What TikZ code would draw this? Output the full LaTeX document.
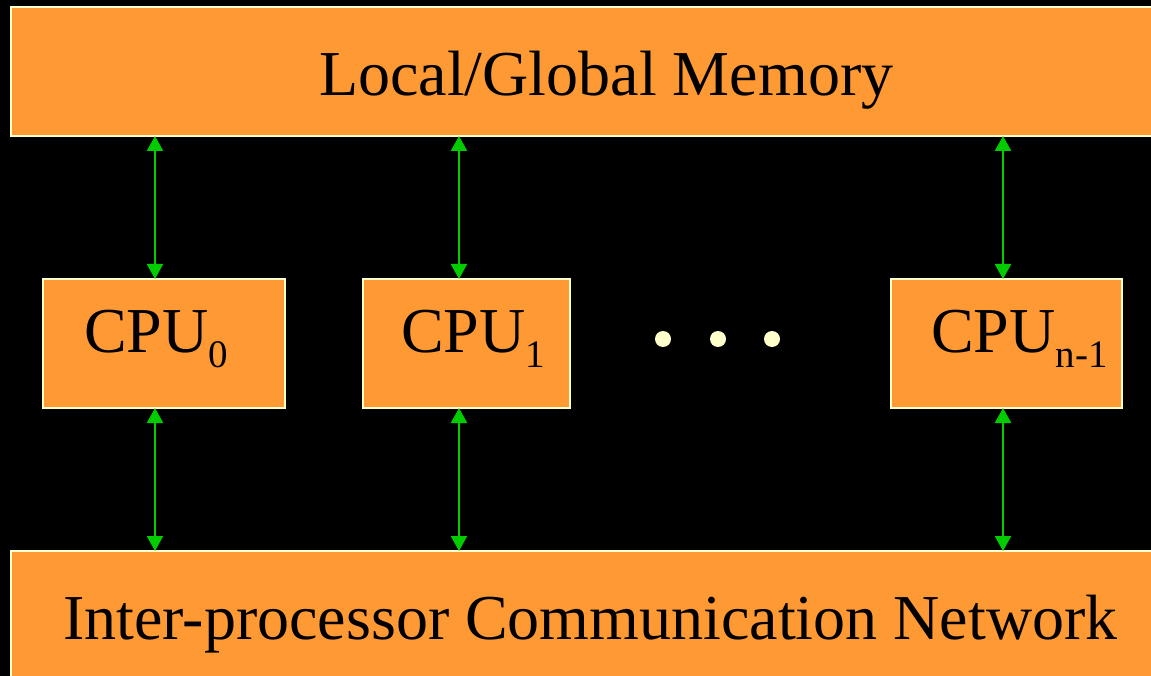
\documentclass[tikz,border=0pt]{standalone}
\usepackage{fontspec}
\setmainfont{Liberation Serif}
\usetikzlibrary{arrows.meta}
\definecolor{boxorange}{HTML}{FF9933}
\definecolor{boxedge}{HTML}{FFFFCC}
\definecolor{arrgreen}{HTML}{00CC00}
\definecolor{dotcol}{HTML}{FFFFCC}
\newcommand{\mysub}[1]{\raisebox{-16pt}{\fontsize{39}{39}\selectfont #1}}
\begin{document}
\begin{tikzpicture}[x=1pt,y=-1pt,
  box/.style={draw=boxedge,fill=boxorange,line width=2pt,inner sep=0pt,outer sep=0pt},
  lbl/.style={inner sep=0pt,anchor=base west,font=\fontsize{64}{64}\selectfont,text=black},
  dotnode/.style={circle,fill=dotcol,inner sep=0pt,minimum size=16pt},
  arr/.style={draw=arrgreen,line width=2.2pt,{Triangle[width=16pt,length=15pt]}-{Triangle[width=16pt,length=15pt]}}
]
\fill[black] (0,0) rectangle (1151,676);
\useasboundingbox (0,0) rectangle (1151,676);
\clip (0,0) rectangle (1151,676);
% boxes
\node[box,minimum width=1189pt,minimum height=129pt] (mem) at (605.5,71.5) {};
\node[box,minimum width=242pt,minimum height=129pt] (cpu0) at (164,343.5) {};
\node[box,minimum width=207pt,minimum height=129pt] (cpu1) at (466.5,343.5) {};
\node[box,minimum width=231pt,minimum height=129pt] (cpun) at (1006.5,343.5) {};
\node[box,minimum width=1189pt,minimum height=149pt] (net) at (605.5,625.5) {};
% labels
\node[lbl] (memtext) at (319,96) {Local/Global Memory};
\node[lbl] (nettext) at (63,639) {Inter-processor Communication Network};
\node[lbl] (cpu0text) at (84,352) {CPU\mysub{0}};
\node[lbl] (cpu1text) at (401,352) {CPU\mysub{1}};
\node[lbl] (cpuntext) at (931,352) {CPU\mysub{n-1}};
% dots
\node[dotnode] (d1) at (663,339) {};
\node[dotnode] (d2) at (718,339) {};
\node[dotnode] (d3) at (772,339) {};
% arrow columns
\coordinate (a0) at (155,0);
\coordinate (a1) at (459,0);
\coordinate (an) at (1003,0);
\draw[arr] (mem.south -| a0) -- (cpu0.north -| a0);
\draw[arr] (mem.south -| a1) -- (cpu1.north -| a1);
\draw[arr] (mem.south -| an) -- (cpun.north -| an);
\draw[arr] (cpu0.south -| a0) -- (net.north -| a0);
\draw[arr] (cpu1.south -| a1) -- (net.north -| a1);
\draw[arr] (cpun.south -| an) -- (net.north -| an);
\end{tikzpicture}
\end{document}
